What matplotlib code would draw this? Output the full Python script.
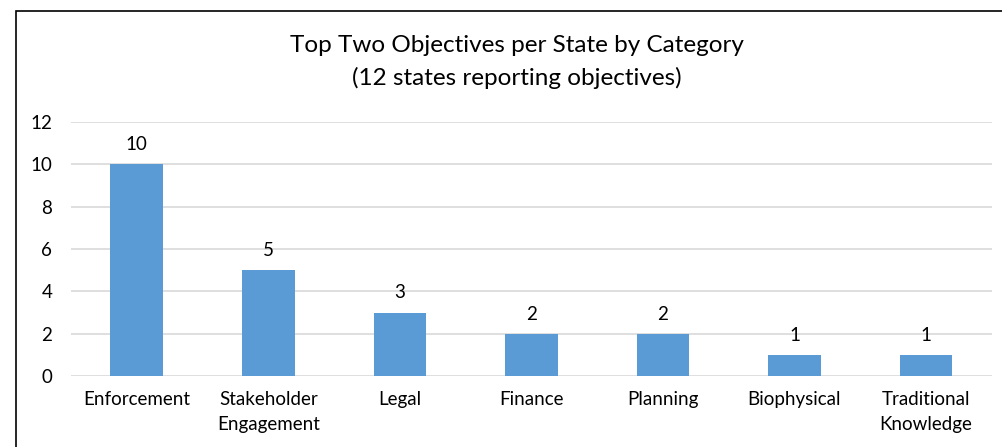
import matplotlib
matplotlib.use("Agg")
import matplotlib.pyplot as plt
from matplotlib.patches import Rectangle

# data
categories = ["Enforcement", "Stakeholder\nEngagement", "Legal", "Finance",
              "Planning", "Biophysical", "Traditional\nKnowledge"]
counts = [10, 5, 3, 2, 2, 1, 1]
y_ticks = [0, 2, 4, 6, 8, 10, 12]

plt.rcParams['font.family'] = ['Lato', 'DejaVu Sans']

fig = plt.figure(figsize=(10.03, 4.47), dpi=100)
ax = fig.add_axes([0.0708, 0.1588, 0.918, 0.5682])

x = range(len(categories))
bars = ax.bar(x, counts, width=0.4, color="#5B9BD5", zorder=3)
for b, v in zip(bars, counts):
    ax.annotate(str(v), (b.get_x() + b.get_width() / 2, v), xytext=(0, 8),
                textcoords="offset points", ha="center", va="bottom",
                fontsize=13.5, color="#000000")

ax.set_xlim(-0.5, len(categories) - 0.5)
ax.set_ylim(0, 12)
ax.set_yticks(y_ticks)
ax.set_xticks(list(x))
ax.set_xticklabels(categories, fontsize=13.5, linespacing=1.55)
ax.tick_params(axis="y", labelsize=13.5, length=0, pad=13.5)
ax.tick_params(axis="x", length=0, pad=11)
ax.grid(axis="y", color="#D9D9D9", linewidth=1.2, zorder=0)
for s in ax.spines.values():
    s.set_visible(False)

fig.text(517 / 1003, 1 - 62 / 447, "Top Two Objectives per State by Category\n(12 states reporting objectives)",
         ha="center", va="center", fontsize=17.5, linespacing=1.55)

# chart frame (cropped on the right and bottom)
fig.patches.append(Rectangle((16 / 1003, -0.1), 1.2, 1 - 11 / 447 + 0.1,
                             transform=fig.transFigure, fill=False,
                             edgecolor="#000000", linewidth=1.2))

fig.savefig("out.png", dpi=100)
